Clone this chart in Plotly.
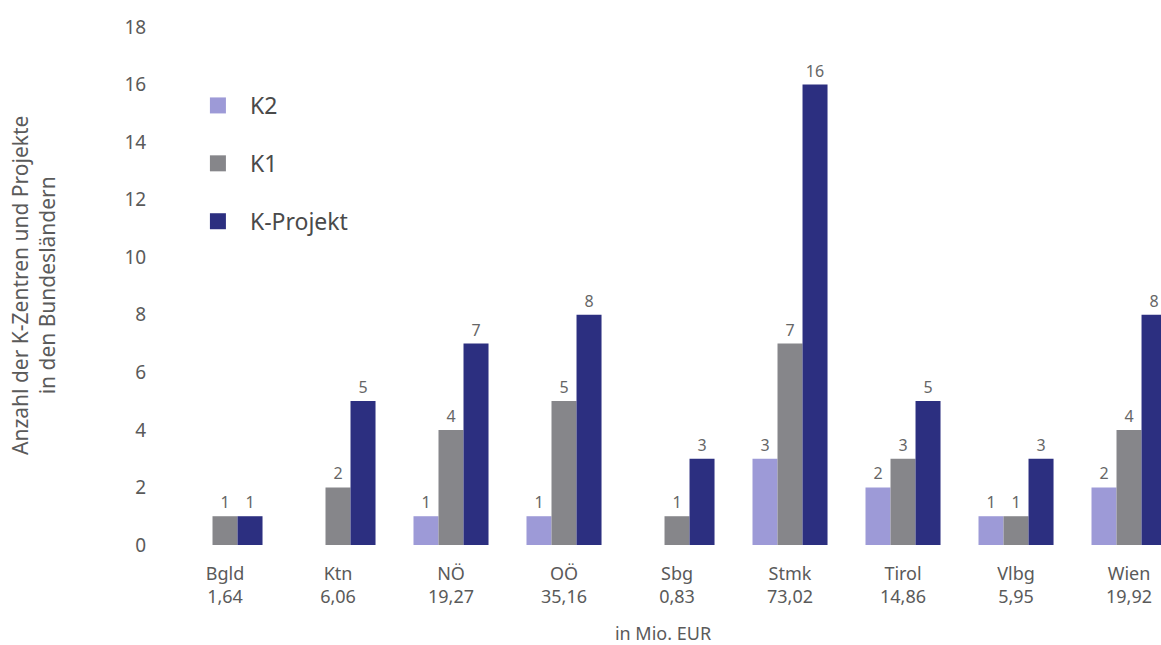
import plotly.graph_objects as go

categories = ["Bgld", "Ktn", "NÖ", "OÖ", "Sbg", "Stmk", "Tirol", "Vlbg", "Wien"]
funding = ["1,64", "6,06", "19,27", "35,16", "0,83", "73,02", "14,86", "5,95", "19,92"]
k2 = [None, None, 1, 1, None, 3, 2, 1, 2]
k1 = [1, 2, 4, 5, 1, 7, 3, 1, 4]
k_projekt = [1, 5, 7, 8, 3, 16, 5, 3, 8]
y_ticks = [0, 2, 4, 6, 8, 10, 12, 14, 16, 18]

series = [("K2", k2, "#9d9ad7"), ("K1", k1, "#86868a"), ("K-Projekt", k_projekt, "#2c2f80")]

FONT = "Noto Sans"
TXT = "#5a5a5a"

fig = go.Figure()
for name, vals, col in series:
    fig.add_trace(go.Bar(
        x=categories, y=vals, name=name, marker=dict(color=col, line=dict(width=0)),
        text=[("" if v is None else str(v)) for v in vals], textposition="outside",
        textfont=dict(family=FONT, size=16, color="#666"), cliponaxis=False,
        showlegend=False,
    ))
for i, (name, vals, col) in enumerate(series):
    fig.add_trace(go.Scatter(
        x=[None], y=[None], mode="markers", name=name, legendgroup=name,
        marker=dict(symbol="square", size=16, color=col),
    ))

fig.update_layout(
    width=1161, height=645,
    margin=dict(l=165, r=0, t=27, b=100),
    paper_bgcolor="white", plot_bgcolor="white",
    barmode="group", bargap=0.336, bargroupgap=0,
    font=dict(family=FONT, color=TXT),
    legend=dict(x=0.021, y=0.89, xanchor="left", yanchor="top",
                font=dict(size=23, color="#4a4a4a"), tracegroupgap=25,
                itemsizing="trace", itemwidth=54, bgcolor="rgba(0,0,0,0)"),
    xaxis=dict(type="category", range=[-0.531, 8.283],
               tickmode="array", tickvals=categories,
               ticktext=[f"{c}<br>{f}" for c, f in zip(categories, funding)],
               tickfont=dict(size=18, color=TXT), ticks="outside", ticklen=12,
               tickcolor="rgba(0,0,0,0)", showgrid=False, showline=False, zeroline=False,
               title=dict(text="in Mio. EUR", font=dict(size=18, color=TXT), standoff=20)),
    yaxis=dict(range=[0, 18], tickmode="array", tickvals=y_ticks,
               tickfont=dict(size=19, color=TXT), ticks="outside", ticklen=14,
               tickcolor="rgba(0,0,0,0)", showgrid=False, zeroline=False, showline=False),
    annotations=[dict(text="Anzahl der K-Zentren und Projekte<br>in den Bundesländern",
                      xref="paper", yref="paper", x=(33 - 165) / 996, y=0.5,
                      xanchor="center", yanchor="middle", textangle=-90, showarrow=False,
                      font=dict(size=21, color=TXT))],
)

fig.write_html("out.html")
